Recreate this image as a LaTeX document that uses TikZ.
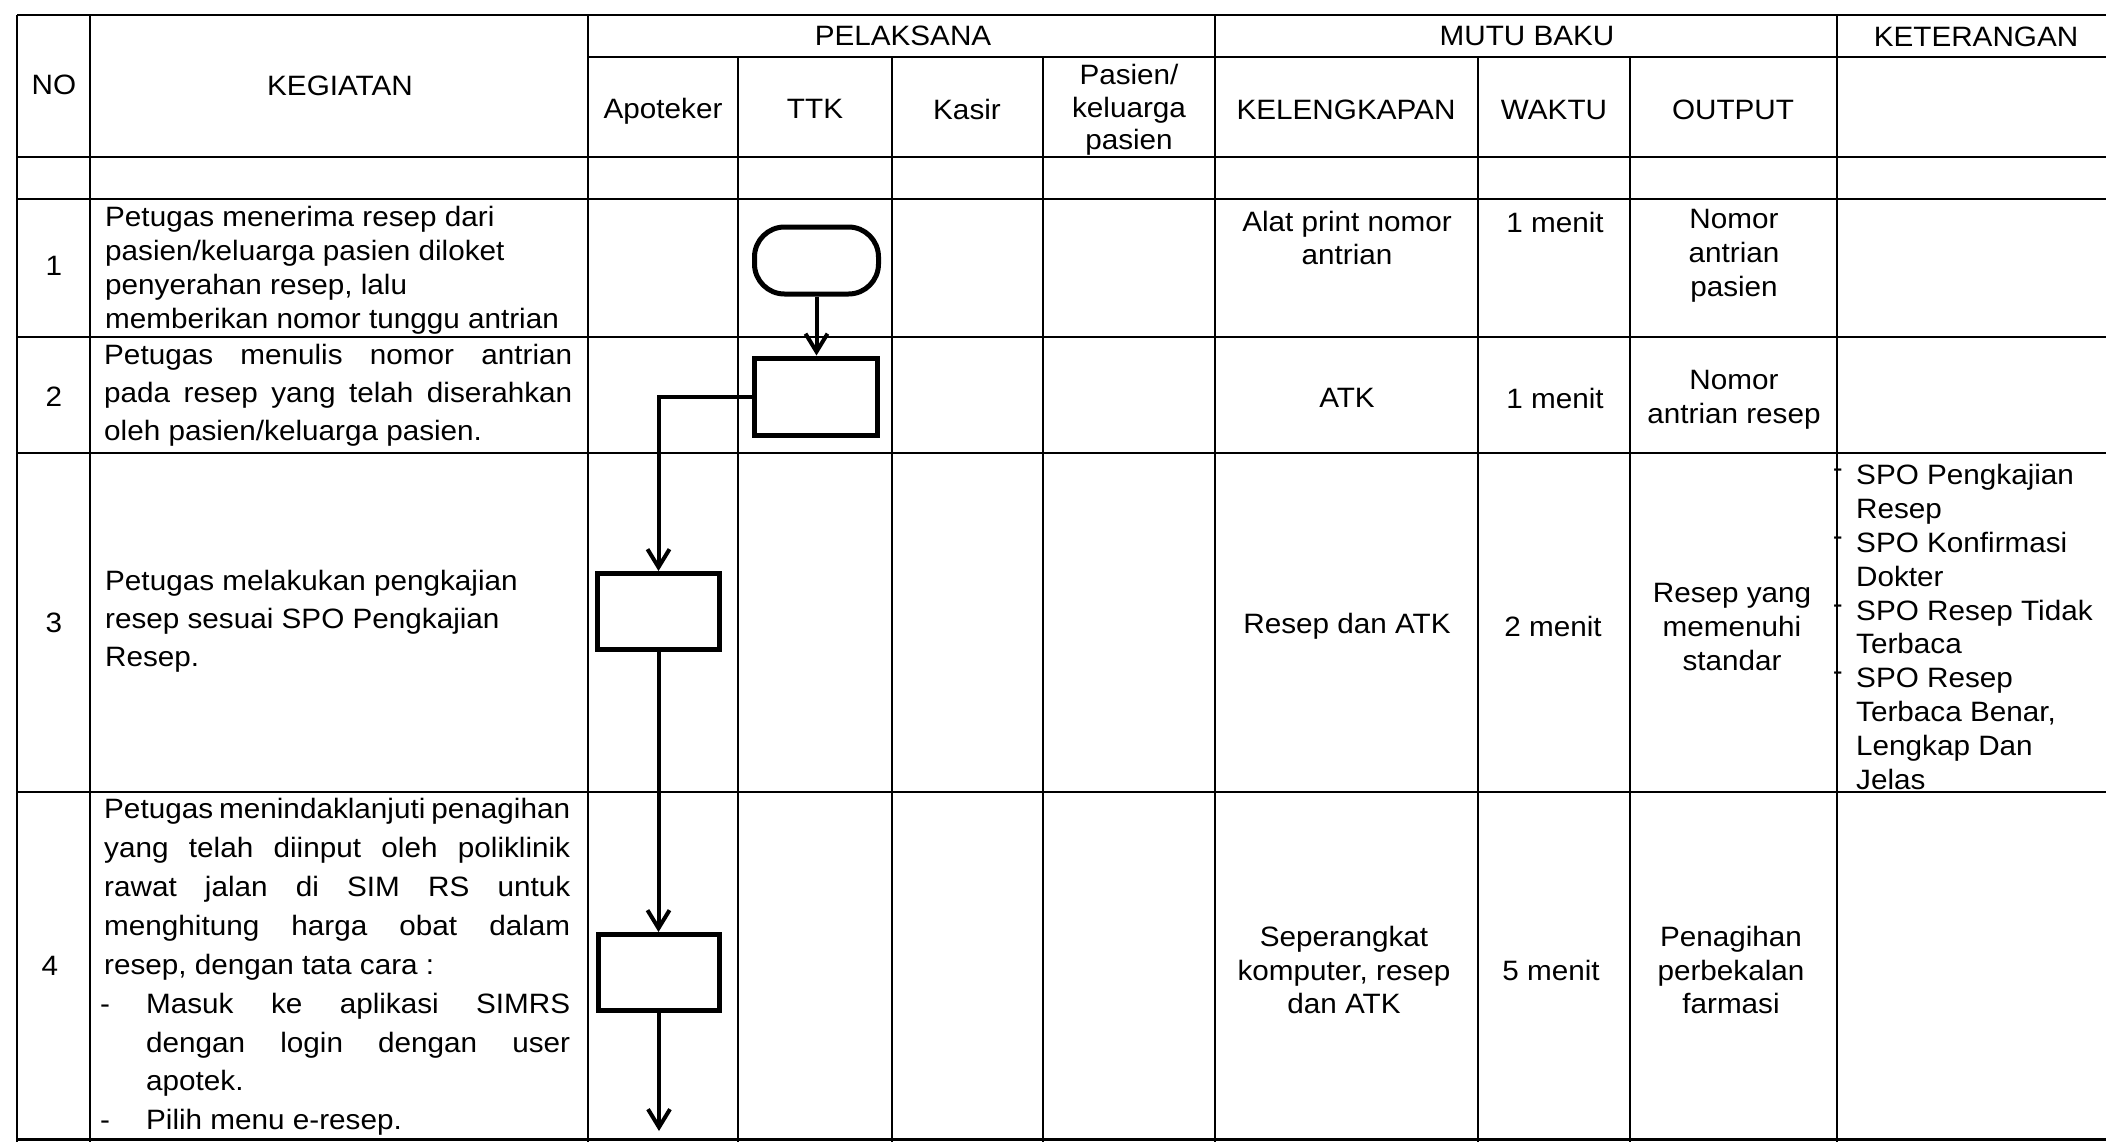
\documentclass[tikz,border=0pt]{standalone}
\usepackage{fontspec}
\setmainfont{Liberation Sans}[FakeStretch=1.06]
\usetikzlibrary{arrows.meta}
\tikzset{
  gridline/.style={line width=2.2pt, black},
  celltxt/.style={inner sep=0pt, align=center, font=\fontsize{28}{33.8}\selectfont},
  hdrtxt/.style={inner sep=0pt, align=center, font=\fontsize{28}{32.5}\selectfont},
  lefttxt/.style={inner sep=0pt, align=left, anchor=west},
  flowbox/.style={draw, line width=5pt, inner sep=0pt},
  flowline/.style={line width=4pt, -{Straight Barb[length=18pt,width=22pt]}},
}
\begin{document}
\begin{tikzpicture}[x=1pt,y=-1pt]
\useasboundingbox (0,0) rectangle (2106,1141);
\begin{scope}
\clip (0,0) rectangle (2106,1141);
% horizontal lines
\draw[gridline] (17,15) -- (2115,15);
\draw[gridline] (588,57) -- (2115,57);
\draw[gridline] (17,157) -- (2115,157);
\draw[gridline] (17,199) -- (2115,199);
\draw[gridline] (17,337) -- (2115,337);
\draw[gridline] (17,453) -- (2115,453);
\draw[gridline] (17,792) -- (2115,792);
\draw[gridline] (17,1139.5) -- (2115,1139.5);
% vertical lines
\draw[gridline] (17,15) -- (17,1145);
\draw[gridline] (90,15) -- (90,1145);
\draw[gridline] (588,15) -- (588,1145);
\draw[gridline] (738,57) -- (738,1145);
\draw[gridline] (892,57) -- (892,1145);
\draw[gridline] (1043,57) -- (1043,1145);
\draw[gridline] (1215,15) -- (1215,1145);
\draw[gridline] (1478,57) -- (1478,1145);
\draw[gridline] (1630,57) -- (1630,1145);
\draw[gridline] (1837,15) -- (1837,1145);
\end{scope}

% header texts
\node[hdrtxt] (hno) at (54,85) {NO};
\node[hdrtxt] (hkeg) at (340,86) {KEGIATAN};
\node[hdrtxt] (hpel) at (903,36) {PELAKSANA};
\node[hdrtxt] (hmutu) at (1527,36) {MUTU BAKU};
\node[hdrtxt] (hket) at (1976,37) {KETERANGAN};
\node[hdrtxt] (hapo) at (663,111) {Apoteker};
\node[hdrtxt] (httk) at (815,109) {TTK};
\node[hdrtxt] (hkas) at (967,109) {Kasir};
\node[hdrtxt] (hpas) at (1129,110) {Pasien/\\keluarga\\pasien};
\node[hdrtxt] (hkel) at (1346,110) {KELENGKAPAN};
\node[hdrtxt] (hwak) at (1554,110) {WAKTU};
\node[hdrtxt] (hout) at (1733,110) {OUTPUT};

% row numbers
\node[celltxt] (n1) at (54,266) {1};
\node[celltxt] (n2) at (54,397) {2};
\node[celltxt] (n3) at (54,623) {3};
\node[celltxt] (n4) at (50,966) {4};

% KEGIATAN texts
\node[lefttxt, font=\fontsize{28}{34}\selectfont] (k1) at (105,270)
  {Petugas menerima resep dari\\pasien/keluarga pasien diloket\\penyerahan resep, lalu\\memberikan nomor tunggu antrian};
\node[lefttxt, font=\fontsize{28}{38}\selectfont] (k2) at (104,395)
  {\makebox[468pt][s]{Petugas menulis nomor antrian}\\
   \makebox[468pt][s]{pada resep yang telah diserahkan}\\
   oleh pasien/keluarga pasien.};
\node[lefttxt, font=\fontsize{28}{38}\selectfont] (k3) at (105,621)
  {Petugas melakukan pengkajian\\resep sesuai SPO Pengkajian\\Resep.};
\node[lefttxt, font=\fontsize{28}{38.9}\selectfont] (k4) at (100,967)
  {\makebox[470pt][s]{\hspace*{4pt}Petugas menindaklanjuti penagihan}\\
   \makebox[470pt][s]{\hspace*{4pt}yang telah diinput oleh poliklinik}\\
   \makebox[470pt][s]{\hspace*{4pt}rawat jalan di SIM RS untuk}\\
   \makebox[470pt][s]{\hspace*{4pt}menghitung harga obat dalam}\\
   \hspace*{4pt}resep, dengan tata cara :\\
   \makebox[46pt][l]{-}\makebox[424pt][s]{Masuk ke aplikasi SIMRS}\\
   \hspace*{46pt}\makebox[424pt][s]{dengan login dengan user}\\
   \hspace*{46pt}apotek.\\
   \makebox[46pt][l]{-}Pilih menu e-resep.};

% MUTU BAKU texts
\node[celltxt] (kel1) at (1347,238) {Alat print nomor\\antrian};
\node[celltxt] (wak1) at (1555,222) {1 menit};
\node[celltxt] (out1) at (1734,256) {Nomor\\antrian\\pasien};
\node[celltxt] (kel2) at (1347,398) {ATK};
\node[celltxt] (wak2) at (1555,398) {1 menit};
\node[celltxt] (out2) at (1734,400) {Nomor\\antrian resep};
\node[celltxt] (kel3) at (1347,626) {Resep dan ATK};
\node[celltxt] (wak3) at (1553,626) {2 menit};
\node[celltxt] (out3) at (1732,627) {Resep yang\\memenuhi\\standar};
\node[celltxt] (kel4) at (1344,970) {Seperangkat\\komputer, resep\\dan ATK};
\node[celltxt] (wak4) at (1551,970) {5 menit};
\node[celltxt] (out4) at (1731,970) {Penagihan\\perbekalan\\farmasi};

% KETERANGAN
\node[lefttxt, font=\fontsize{28}{33.9}\selectfont] (ket3) at (1856,627)
  {SPO Pengkajian\\Resep\\SPO Konfirmasi\\Dokter\\SPO Resep Tidak\\Terbaca\\SPO Resep\\Terbaca Benar,\\Lengkap Dan\\Jelas};
\node[celltxt, anchor=east] (d1) at (1843,473) {-};
\node[celltxt, anchor=east] (d2) at (1843,541) {-};
\node[celltxt, anchor=east] (d3) at (1843,609) {-};
\node[celltxt, anchor=east] (d4) at (1843,676) {-};

% flowchart
\node[flowbox, rounded corners=30pt, minimum width=124pt, minimum height=67pt] (term) at (816.5,260.5) {};
\node[flowbox, minimum width=123pt, minimum height=77pt] (box2) at (816,396.5) {};
\node[flowbox, minimum width=122pt, minimum height=76pt] (box3) at (658.5,611.5) {};
\node[flowbox, minimum width=121pt, minimum height=76pt] (box4) at (659,972.5) {};
\coordinate (fend) at (659,1131);

\draw[flowline] (term.south) -- (term.south |- box2.north);
\draw[flowline] (box2.west) -| (box3.north);
\draw[flowline] (box3.south) -- (box3.south |- box4.north);
\draw[flowline] (box4.south) -- (fend);
\end{tikzpicture}
\end{document}
